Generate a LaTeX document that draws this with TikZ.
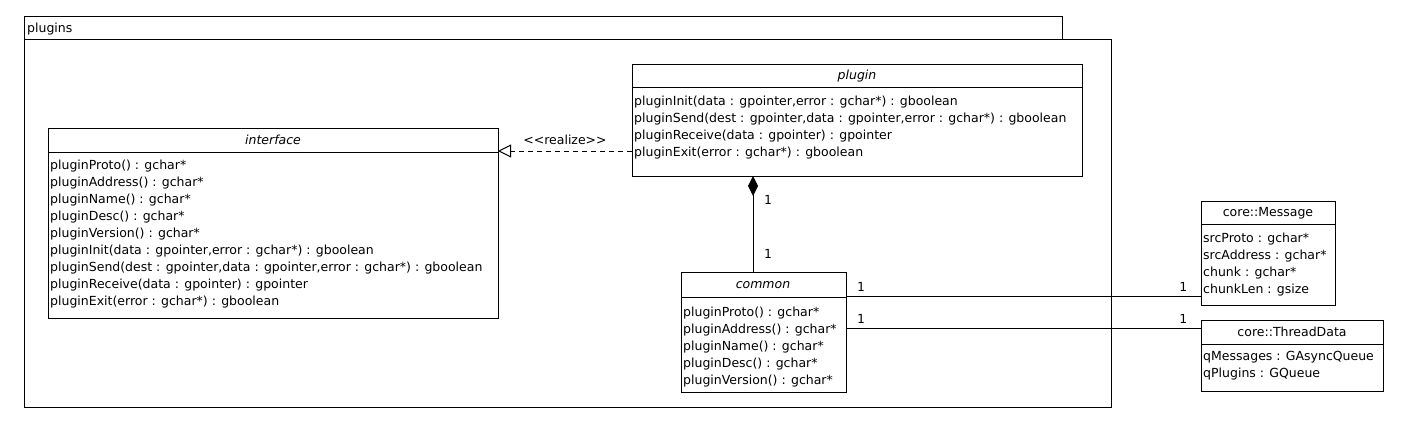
\documentclass[tikz,border=0pt]{standalone}
\usepackage{fontspec}
\setmainfont{DejaVu Sans}
\setmonofont{DejaVu Sans Mono}
\usetikzlibrary{arrows.meta}

\newcommand{\umlfont}{\fontsize{12.5}{17}\selectfont}
\newcommand{\multfont}{\ttfamily\fontsize{12.5}{17}\selectfont}

\tikzset{
  classbox/.style={draw, line width=1pt, anchor=north west, inner sep=0pt, outer sep=0pt},
  classname/.style={anchor=base, inner sep=0pt, font=\umlfont\itshape},
  coreclass/.style={anchor=base, inner sep=0pt, font=\umlfont},
  members/.style={anchor=north west, inner sep=0pt, align=left, font=\umlfont},
  mult/.style={anchor=base, inner sep=0pt, font=\multfont},
  realization/.style={line width=1pt, dash pattern=on 5pt off 4pt, -{Triangle[open, length=13pt, width=13pt]}},
  composition/.style={line width=1pt, {Diamond[length=20pt, width=10pt]}-},
  association/.style={line width=1pt}
}

\begin{document}
\begin{tikzpicture}[x=1pt, y=-1pt]
  \useasboundingbox (0,0) rectangle (1406,440);

  % package plugins
  \draw[line width=1pt] (24,39) -- (24,16) -- (1062,16) -- (1062,39);
  \draw[line width=1pt] (24,39) rectangle (1111,407);
  \node[anchor=base west, inner sep=0pt, font=\umlfont] (pkgname) at (27,32) {plugins};

  % interface
  \node[classbox, minimum width=450, minimum height=190] (interface) at (48,128) {};
  \draw[line width=1pt] (48,152) -- (498,152);
  \node[classname] (ifname) at (273,144) {interface};
  \node[members] (ifops) at (50,159.5) {pluginProto() : gchar*\\
    pluginAddress() : gchar*\\
    pluginName() : gchar*\\
    pluginDesc() : gchar*\\
    pluginVersion() : gchar*\\
    pluginInit(data : gpointer,error : gchar*) : gboolean\\
    pluginSend(dest : gpointer,data : gpointer,error : gchar*) : gboolean\\
    pluginReceive(data : gpointer) : gpointer\\
    pluginExit(error : gchar*) : gboolean};

  % plugin
  \node[classbox, minimum width=450, minimum height=112] (plugin) at (632,64) {};
  \draw[line width=1pt] (632,87) -- (1082,87);
  \node[classname] (plname) at (857,79.5) {plugin};
  \node[members] (plops) at (634,95.5) {pluginInit(data : gpointer,error : gchar*) : gboolean\\
    pluginSend(dest : gpointer,data : gpointer,error : gchar*) : gboolean\\
    pluginReceive(data : gpointer) : gpointer\\
    pluginExit(error : gchar*) : gboolean};

  % common
  \node[classbox, minimum width=165, minimum height=120] (common) at (681,272) {};
  \draw[line width=1pt] (681,297) -- (846,297);
  \node[classname] (cmname) at (763,288.5) {common};
  \node[members] (cmops) at (683,306.5) {pluginProto() : gchar*\\
    pluginAddress() : gchar*\\
    pluginName() : gchar*\\
    pluginDesc() : gchar*\\
    pluginVersion() : gchar*};

  % core::Message
  \node[classbox, minimum width=134, minimum height=104] (message) at (1201,201) {};
  \draw[line width=1pt] (1201,224) -- (1335,224);
  \node[coreclass] (msgname) at (1268,216.5) {core::Message};
  \node[members] (msgattr) at (1203,232.5) {srcProto : gchar*\\
    srcAddress : gchar*\\
    chunk : gchar*\\
    chunkLen : gsize};

  % core::ThreadData
  \node[classbox, minimum width=182, minimum height=71] (thread) at (1201,320) {};
  \draw[line width=1pt] (1201,344) -- (1383,344);
  \node[coreclass] (thname) at (1292,336.5) {core::ThreadData};
  \node[members] (thattr) at (1203,351.5) {qMessages : GAsyncQueue\\
    qPlugins : GQueue};

  % connectors
  \coordinate (ifhook) at (498,151);
  \draw[realization] (plugin.west |- ifhook) -- (ifhook);
  \node[anchor=base, inner sep=0pt, font=\umlfont] (realize) at (565,144) {<{}<realize>{}>};

  \coordinate (cmtop) at (753,272);
  \draw[composition] (plugin.south -| cmtop) -- (cmtop);
  \node[mult] (m1) at (768,204) {1};
  \node[mult] (m2) at (768,258) {1};

  \coordinate (msghook) at (1201,296);
  \coordinate (thhook) at (1201,328);
  \draw[association] (common.east |- msghook) -- (msghook);
  \draw[association] (common.east |- thhook) -- (thhook);
  \node[mult] (m3) at (861,291) {1};
  \node[mult] (m4) at (1183,291) {1};
  \node[mult] (m5) at (861,323) {1};
  \node[mult] (m6) at (1183,323) {1};
\end{tikzpicture}
\end{document}
